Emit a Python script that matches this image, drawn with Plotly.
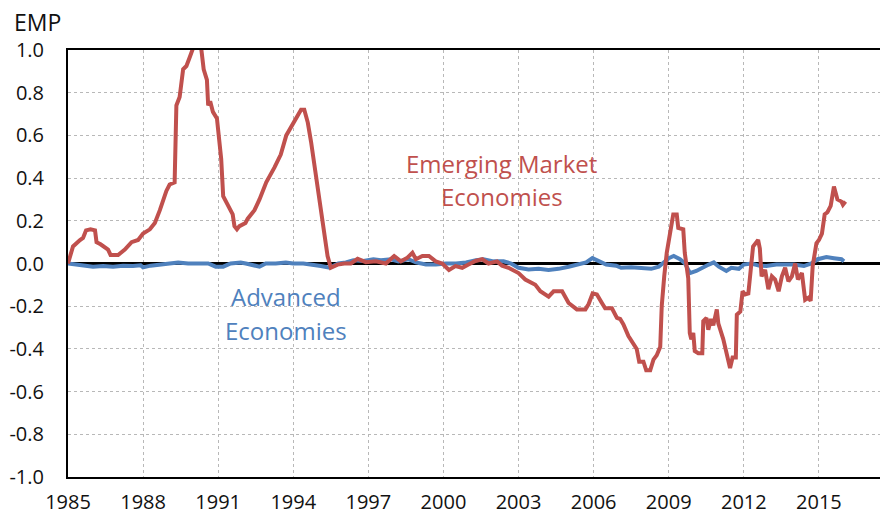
import plotly.graph_objects as go

# Emerging Market Economies (EMP index)
EM_YEARS = [1985.0, 1985.2, 1985.48, 1985.6, 1985.72, 1985.9, 1986.08, 1986.14, 1986.3, 1986.47,
            1986.6, 1986.7, 1987.0, 1987.27, 1987.54, 1987.8, 1988.0, 1988.27, 1988.47, 1988.67,
            1988.8, 1988.93, 1989.06, 1989.26, 1989.33, 1989.46, 1989.6, 1989.73, 1989.86, 1989.97,
            1990.1, 1990.25, 1990.33, 1990.42, 1990.55, 1990.6, 1990.68, 1990.79, 1990.95, 1991.03,
            1991.12, 1991.2, 1991.38, 1991.58, 1991.65, 1991.75, 1991.85, 1992.09, 1992.18, 1992.45,
            1992.65, 1992.92, 1993.25, 1993.5, 1993.72, 1993.98, 1994.18, 1994.31, 1994.44, 1994.58,
            1994.71, 1994.91, 1995.11, 1995.24, 1995.37, 1995.5, 1995.77, 1996.04, 1996.3, 1996.57,
            1996.9, 1997.3, 1997.7, 1998.03, 1998.3, 1998.56, 1998.76, 1998.9, 1999.16, 1999.42,
            1999.69, 1999.95, 2000.22, 2000.48, 2000.75, 2001.0, 2001.28, 2001.55, 2001.8, 2002.14,
            2002.34, 2002.6, 2002.87, 2003.0, 2003.27, 2003.5, 2003.67, 2003.87, 2004.2, 2004.4,
            2004.74, 2005.0, 2005.33, 2005.67, 2005.8, 2005.96, 2006.13, 2006.33, 2006.46, 2006.73,
            2006.93, 2007.06, 2007.19, 2007.39, 2007.59, 2007.72, 2007.82, 2007.99, 2008.1, 2008.26,
            2008.39, 2008.52, 2008.66, 2008.72, 2008.82, 2008.92, 2009.05, 2009.18, 2009.32, 2009.38,
            2009.58, 2009.64, 2009.78, 2009.84, 2009.9, 2009.98, 2010.04, 2010.18, 2010.34, 2010.38,
            2010.51, 2010.58, 2010.69, 2010.78, 2010.92, 2010.98, 2011.18, 2011.35, 2011.45, 2011.55,
            2011.68, 2011.72, 2011.86, 2011.95, 2012.05, 2012.18, 2012.32, 2012.37, 2012.57, 2012.64,
            2012.71, 2012.85, 2012.98, 2013.12, 2013.25, 2013.39, 2013.52, 2013.65, 2013.78, 2013.92,
            2014.05, 2014.16, 2014.32, 2014.45, 2014.58, 2014.67, 2014.75, 2014.9, 2015.0, 2015.12,
            2015.23, 2015.34, 2015.47, 2015.6, 2015.74, 2015.9, 2015.96, 2016.06]
EM_VALUES = [0.0, 0.08, 0.11, 0.12, 0.155, 0.16, 0.155, 0.10, 0.09, 0.075,
             0.065, 0.04, 0.04, 0.065, 0.10, 0.11, 0.14, 0.16, 0.19, 0.25,
             0.30, 0.34, 0.37, 0.38, 0.74, 0.78, 0.91, 0.925, 0.965, 1.0,
             1.06, 1.05, 1.0, 0.91, 0.86, 0.74, 0.76, 0.71, 0.68, 0.57,
             0.49, 0.315, 0.27, 0.23, 0.175, 0.16, 0.175, 0.19, 0.21, 0.25,
             0.30, 0.38, 0.45, 0.51, 0.60, 0.65, 0.69, 0.72, 0.72, 0.66,
             0.57, 0.41, 0.27, 0.14, 0.035, -0.02, -0.005, 0.0, 0.0, 0.022,
             0.006, 0.01, 0.0, 0.035, 0.01, 0.027, 0.05, 0.02, 0.035, 0.035,
             0.01, 0.0, -0.03, -0.012, -0.02, -0.005, 0.012, 0.02, 0.0, 0.01,
             -0.01, -0.02, -0.035, -0.045, -0.075, -0.09, -0.10, -0.13, -0.155, -0.13,
             -0.13, -0.185, -0.215, -0.215, -0.19, -0.14, -0.145, -0.185, -0.21, -0.21,
             -0.255, -0.26, -0.285, -0.34, -0.38, -0.40, -0.46, -0.46, -0.50, -0.50,
             -0.45, -0.43, -0.39, -0.20, -0.06, 0.05, 0.14, 0.23, 0.23, 0.167,
             0.16, 0.05, -0.07, -0.325, -0.355, -0.325, -0.41, -0.42, -0.42, -0.27,
             -0.255, -0.31, -0.26, -0.29, -0.215, -0.28, -0.355, -0.44, -0.49, -0.44,
             -0.44, -0.24, -0.225, -0.13, -0.145, -0.14, 0.02, 0.08, 0.11, 0.07,
             -0.06, -0.03, -0.12, -0.06, -0.075, -0.13, -0.06, -0.02, -0.083, -0.06,
             0.0, -0.075, -0.045, -0.17, -0.16, -0.175, -0.013, 0.095, 0.11, 0.14,
             0.23, 0.24, 0.27, 0.36, 0.30, 0.29, 0.275, 0.29]

# Advanced Economies (EMP index)
AE_YEARS = [1985.0, 1985.3, 1985.6, 1986.0, 1986.4, 1986.8, 1987.2, 1987.6, 1987.9, 1988.0,
            1988.3, 1988.7, 1989.0, 1989.4, 1989.8, 1990.2, 1990.6, 1990.9, 1991.2, 1991.5,
            1991.9, 1992.1, 1992.4, 1992.65, 1992.9, 1993.3, 1993.7, 1994.0, 1994.4, 1994.8,
            1995.1, 1995.45, 1995.8, 1996.1, 1996.4, 1996.8, 1997.2, 1997.5, 1997.9, 1998.2,
            1998.6, 1998.9, 1999.3, 1999.7, 2000.1, 2000.5, 2000.9, 2001.3, 2001.6, 2002.0,
            2002.4, 2002.7, 2003.0, 2003.4, 2003.8, 2004.2, 2004.6, 2005.0, 2005.4, 2005.7,
            2005.95, 2006.2, 2006.5, 2006.9, 2007.1, 2007.5, 2007.9, 2008.3, 2008.6, 2008.8,
            2009.0, 2009.2, 2009.45, 2009.65, 2009.85, 2010.1, 2010.4, 2010.6, 2010.8, 2011.0,
            2011.3, 2011.5, 2011.8, 2012.0, 2012.3, 2012.6, 2012.9, 2013.3, 2013.7, 2014.0,
            2014.4, 2014.7, 2014.95, 2015.3, 2015.6, 2015.9, 2016.0]
AE_VALUES = [0.0, -0.005, -0.01, -0.015, -0.012, -0.015, -0.01, -0.012, -0.008, -0.018,
             -0.01, -0.005, 0.0, 0.005, 0.0, 0.002, 0.0, -0.015, -0.015, 0.0,
             0.005, 0.0, -0.008, -0.015, 0.0, 0.0, 0.005, 0.0, 0.0, -0.005,
             -0.012, -0.02, 0.0, 0.005, 0.015, 0.012, 0.02, 0.015, 0.02, 0.01,
             0.02, 0.005, -0.005, -0.005, 0.0, 0.0, 0.005, 0.015, 0.02, 0.01,
             0.01, 0.0, -0.02, -0.028, -0.025, -0.03, -0.025, -0.015, -0.005, 0.005,
             0.025, 0.01, -0.005, -0.01, -0.02, -0.018, -0.022, -0.025, -0.015, 0.005,
             0.025, 0.035, 0.02, 0.0, -0.045, -0.035, -0.015, -0.005, 0.005, -0.015,
             -0.035, -0.02, -0.025, -0.005, 0.0, -0.01, -0.012, -0.005, -0.005, -0.005,
             -0.012, 0.0, 0.02, 0.03, 0.025, 0.02, 0.01]

X_TICKS = [1985, 1988, 1991, 1994, 1997, 2000, 2003, 2006, 2009, 2012, 2015]
X_TICK_LABELS = [str(v) for v in X_TICKS]
Y_TICKS = [1.0, 0.8, 0.6, 0.4, 0.2, 0.0, -0.2, -0.4, -0.6, -0.8, -1.0]
Y_TICK_LABELS = ["1.0", "0.8", "0.6", "0.4", "0.2", "0.0", "-0.2", "-0.4", "-0.6", "-0.8", "-1.0"]

RED = "#C0504D"
BLUE = "#4F81BD"
FONT = "Open Sans"

fig = go.Figure()
fig.add_trace(go.Scatter(x=AE_YEARS, y=AE_VALUES, mode="lines",
                         line=dict(color=BLUE, width=4), name="Advanced Economies"))
fig.add_trace(go.Scatter(x=EM_YEARS, y=EM_VALUES, mode="lines",
                         line=dict(color=RED, width=4), name="Emerging Market Economies"))

grid = dict(showgrid=True, gridcolor="#B8B8B8", gridwidth=1, griddash="dot")

fig.update_xaxes(range=[1985, 2017.44], tickvals=X_TICKS, ticktext=X_TICK_LABELS,
                 showline=True, linecolor="black", linewidth=2, mirror=True,
                 ticks="", ticklabelstandoff=6, zeroline=False, automargin=False,
                 tickfont=dict(family=FONT, size=20, color="#111111"), **grid)
fig.update_yaxes(range=[-1.0, 1.0], tickvals=Y_TICKS, ticktext=Y_TICK_LABELS,
                 showline=True, linecolor="black", linewidth=2,
                 ticks="", ticklabelstandoff=18, automargin=False,
                 zeroline=True, zerolinecolor="black", zerolinewidth=3,
                 tickfont=dict(family=FONT, size=20, color="#111111"), **grid)

label = dict(showarrow=False, xanchor="center", yanchor="middle")
annotations = [
    dict(text="EMP", xref="paper", yref="paper", x=-0.037, y=1.066,
         font=dict(family=FONT, size=23, color="#111111"), **label),
    dict(text="Emerging Market", xref="x", yref="y", x=2002.33, y=0.468,
         font=dict(family=FONT, size=24, color=RED), **label),
    dict(text="Economies", xref="x", yref="y", x=2002.33, y=0.313,
         font=dict(family=FONT, size=24, color=RED), **label),
    dict(text="Advanced", xref="x", yref="y", x=1993.69, y=-0.155,
         font=dict(family=FONT, size=24, color=BLUE), **label),
    dict(text="Economies", xref="x", yref="y", x=1993.69, y=-0.315,
         font=dict(family=FONT, size=24, color=BLUE), **label),
]

fig.update_layout(width=880, height=518, margin=dict(l=68, r=0, t=50, b=41),
                  plot_bgcolor="white", paper_bgcolor="white", showlegend=False,
                  annotations=annotations, font=dict(family=FONT))

fig.write_html("out.html", config={"displayModeBar": False},
               post_script="document.body.style.margin='0';document.body.style.overflow='hidden';")
